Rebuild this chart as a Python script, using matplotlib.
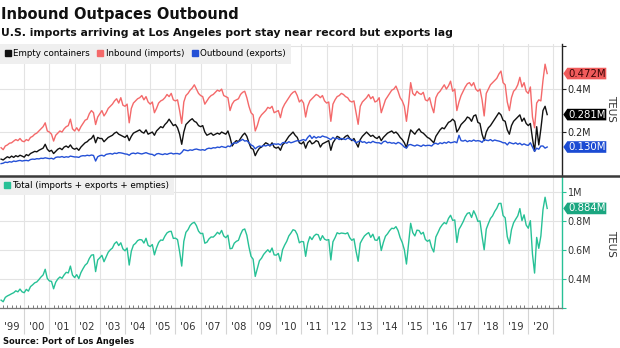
import numpy as np
import matplotlib
matplotlib.use("Agg")
import matplotlib.pyplot as plt
from matplotlib.patches import Polygon
from matplotlib.lines import Line2D
from matplotlib.ticker import FixedLocator, NullFormatter

plt.rcParams['font.family'] = ['DejaVu Sans']

# Monthly TEUs (millions), Jan 1999 - Sep 2020, one row per year
inbound = [
    0.127, 0.118, 0.135, 0.140, 0.148, 0.150, 0.158, 0.165, 0.160, 0.170, 0.158, 0.155,  # 1999
    0.165, 0.160, 0.175, 0.180, 0.190, 0.195, 0.205, 0.215, 0.225, 0.243, 0.205, 0.200,  # 2000
    0.190, 0.158, 0.185, 0.195, 0.205, 0.200, 0.215, 0.225, 0.230, 0.260, 0.215, 0.205,  # 2001
    0.220, 0.205, 0.225, 0.240, 0.255, 0.260, 0.285, 0.300, 0.290, 0.235, 0.270, 0.285,  # 2002
    0.300, 0.275, 0.290, 0.310, 0.320, 0.330, 0.345, 0.355, 0.335, 0.360, 0.325, 0.320,  # 2003
    0.330, 0.243, 0.310, 0.335, 0.345, 0.355, 0.360, 0.370, 0.350, 0.365, 0.340, 0.330,  # 2004
    0.340, 0.290, 0.310, 0.335, 0.345, 0.350, 0.360, 0.375, 0.365, 0.380, 0.350, 0.345,  # 2005
    0.350, 0.300, 0.240, 0.340, 0.370, 0.380, 0.395, 0.405, 0.420, 0.400, 0.380, 0.370,  # 2006
    0.365, 0.330, 0.345, 0.360, 0.370, 0.375, 0.385, 0.395, 0.390, 0.400, 0.370, 0.365,  # 2007
    0.360, 0.300, 0.330, 0.345, 0.350, 0.355, 0.375, 0.385, 0.390, 0.360, 0.320, 0.290,  # 2008
    0.280, 0.205, 0.230, 0.265, 0.280, 0.290, 0.300, 0.315, 0.310, 0.320, 0.290, 0.295,  # 2009
    0.300, 0.267, 0.310, 0.330, 0.345, 0.360, 0.375, 0.385, 0.390, 0.370, 0.340, 0.350,  # 2010
    0.335, 0.270, 0.320, 0.345, 0.355, 0.365, 0.375, 0.370, 0.360, 0.370, 0.345, 0.335,  # 2011
    0.340, 0.250, 0.330, 0.350, 0.365, 0.370, 0.380, 0.375, 0.365, 0.360, 0.345, 0.340,  # 2012
    0.345, 0.290, 0.236, 0.320, 0.340, 0.350, 0.360, 0.375, 0.355, 0.365, 0.340, 0.345,  # 2013
    0.360, 0.290, 0.320, 0.350, 0.365, 0.380, 0.395, 0.400, 0.414, 0.390, 0.360, 0.345,  # 2014
    0.320, 0.250, 0.330, 0.430, 0.380, 0.370, 0.390, 0.380, 0.375, 0.385, 0.350, 0.345,  # 2015
    0.360, 0.320, 0.290, 0.360, 0.380, 0.390, 0.405, 0.420, 0.400, 0.415, 0.437, 0.390,  # 2016
    0.400, 0.300, 0.340, 0.370, 0.390, 0.410, 0.425, 0.430, 0.415, 0.430, 0.400, 0.390,  # 2017
    0.400, 0.350, 0.275, 0.380, 0.400, 0.420, 0.430, 0.440, 0.450, 0.470, 0.484, 0.430,  # 2018
    0.420, 0.340, 0.300, 0.360, 0.390, 0.400, 0.420, 0.455, 0.410, 0.430, 0.390, 0.380,  # 2019
    0.410, 0.270, 0.220, 0.335, 0.350, 0.345, 0.440, 0.516, 0.4724,                      # 2020
]

empty = [
    0.074, 0.070, 0.078, 0.085, 0.080, 0.088, 0.082, 0.090, 0.085, 0.092, 0.088, 0.083,  # 1999
    0.095, 0.090, 0.100, 0.105, 0.110, 0.108, 0.115, 0.120, 0.125, 0.143, 0.120, 0.110,  # 2000
    0.115, 0.100, 0.110, 0.120, 0.125, 0.118, 0.130, 0.135, 0.128, 0.140, 0.125, 0.120,  # 2001
    0.125, 0.115, 0.130, 0.140, 0.150, 0.155, 0.165, 0.170, 0.185, 0.150, 0.175, 0.170,  # 2002
    0.170, 0.155, 0.165, 0.175, 0.180, 0.185, 0.195, 0.200, 0.190, 0.185, 0.180, 0.175,  # 2003
    0.185, 0.160, 0.180, 0.195, 0.200, 0.205, 0.210, 0.200, 0.195, 0.210, 0.190, 0.195,  # 2004
    0.200, 0.185, 0.205, 0.215, 0.225, 0.220, 0.235, 0.245, 0.260, 0.245, 0.230, 0.235,  # 2005
    0.220, 0.190, 0.143, 0.200, 0.235, 0.245, 0.255, 0.262, 0.250, 0.245, 0.230, 0.225,  # 2006
    0.230, 0.200, 0.185, 0.190, 0.195, 0.185, 0.190, 0.195, 0.190, 0.200, 0.195, 0.190,  # 2007
    0.205, 0.175, 0.135, 0.150, 0.160, 0.155, 0.170, 0.185, 0.195, 0.180, 0.150, 0.125,  # 2008
    0.120, 0.090, 0.110, 0.125, 0.130, 0.140, 0.150, 0.145, 0.135, 0.150, 0.130, 0.125,  # 2009
    0.130, 0.115, 0.140, 0.150, 0.165, 0.180, 0.190, 0.200, 0.185, 0.175, 0.150, 0.145,  # 2010
    0.155, 0.125, 0.150, 0.160, 0.145, 0.150, 0.160, 0.155, 0.130, 0.145, 0.150, 0.155,  # 2011
    0.160, 0.115, 0.150, 0.165, 0.180, 0.175, 0.165, 0.170, 0.180, 0.185, 0.170, 0.160,  # 2012
    0.170, 0.150, 0.130, 0.165, 0.180, 0.190, 0.200, 0.190, 0.180, 0.185, 0.175, 0.170,  # 2013
    0.180, 0.160, 0.175, 0.185, 0.195, 0.200, 0.205, 0.195, 0.200, 0.190, 0.175, 0.165,  # 2014
    0.150, 0.127, 0.170, 0.210, 0.200, 0.190, 0.205, 0.215, 0.200, 0.195, 0.185, 0.175,  # 2015
    0.170, 0.160, 0.150, 0.180, 0.195, 0.210, 0.220, 0.215, 0.230, 0.245, 0.250, 0.260,  # 2016
    0.250, 0.200, 0.215, 0.235, 0.245, 0.255, 0.270, 0.265, 0.250, 0.275, 0.280, 0.245,  # 2017
    0.240, 0.190, 0.160, 0.200, 0.220, 0.230, 0.245, 0.260, 0.275, 0.290, 0.280, 0.255,  # 2018
    0.250, 0.210, 0.190, 0.230, 0.250, 0.260, 0.270, 0.280, 0.250, 0.265, 0.240, 0.230,  # 2019
    0.240, 0.170, 0.110, 0.225, 0.140, 0.215, 0.300, 0.320, 0.2813,                      # 2020
]

outbound = [
    0.053, 0.055, 0.060, 0.058, 0.062, 0.060, 0.065, 0.063, 0.066, 0.068, 0.065, 0.067,  # 1999
    0.068, 0.066, 0.072, 0.074, 0.073, 0.076, 0.075, 0.078, 0.077, 0.080, 0.078, 0.076,  # 2000
    0.078, 0.074, 0.082, 0.084, 0.083, 0.086, 0.082, 0.085, 0.083, 0.088, 0.086, 0.084,  # 2001
    0.084, 0.082, 0.088, 0.090, 0.089, 0.092, 0.090, 0.093, 0.091, 0.065, 0.085, 0.090,  # 2002
    0.092, 0.088, 0.096, 0.098, 0.100, 0.097, 0.102, 0.100, 0.104, 0.103, 0.101, 0.098,  # 2003
    0.097, 0.092, 0.100, 0.102, 0.099, 0.103, 0.100, 0.098, 0.101, 0.104, 0.100, 0.097,  # 2004
    0.096, 0.090, 0.098, 0.100, 0.097, 0.095, 0.099, 0.096, 0.100, 0.102, 0.098, 0.100,  # 2005
    0.100, 0.097, 0.105, 0.118, 0.115, 0.113, 0.117, 0.115, 0.119, 0.121, 0.118, 0.116,  # 2006
    0.118, 0.115, 0.122, 0.125, 0.123, 0.127, 0.126, 0.130, 0.128, 0.133, 0.130, 0.128,  # 2007
    0.135, 0.132, 0.145, 0.150, 0.148, 0.155, 0.160, 0.166, 0.158, 0.160, 0.150, 0.140,  # 2008
    0.135, 0.122, 0.130, 0.135, 0.132, 0.138, 0.135, 0.140, 0.138, 0.142, 0.145, 0.143,  # 2009
    0.145, 0.140, 0.150, 0.152, 0.148, 0.155, 0.150, 0.153, 0.157, 0.160, 0.158, 0.162,  # 2010
    0.165, 0.160, 0.175, 0.185, 0.170, 0.180, 0.172, 0.178, 0.175, 0.182, 0.178, 0.176,  # 2011
    0.170, 0.165, 0.175, 0.168, 0.172, 0.165, 0.170, 0.168, 0.165, 0.172, 0.168, 0.165,  # 2012
    0.160, 0.150, 0.155, 0.160, 0.152, 0.155, 0.148, 0.153, 0.150, 0.157, 0.152, 0.150,  # 2013
    0.150, 0.145, 0.155, 0.158, 0.150, 0.152, 0.148, 0.150, 0.145, 0.152, 0.148, 0.140,  # 2014
    0.130, 0.125, 0.140, 0.142, 0.138, 0.135, 0.140, 0.137, 0.133, 0.140, 0.136, 0.138,  # 2015
    0.138, 0.135, 0.145, 0.148, 0.143, 0.150, 0.146, 0.152, 0.148, 0.155, 0.150, 0.152,  # 2016
    0.155, 0.150, 0.185, 0.160, 0.158, 0.162, 0.155, 0.160, 0.157, 0.163, 0.158, 0.160,  # 2017
    0.158, 0.152, 0.165, 0.162, 0.160, 0.165, 0.158, 0.163, 0.160, 0.158, 0.155, 0.150,  # 2018
    0.150, 0.140, 0.152, 0.148, 0.145, 0.150, 0.143, 0.148, 0.140, 0.145, 0.140, 0.138,  # 2019
    0.150, 0.130, 0.110, 0.125, 0.120, 0.135, 0.135, 0.125, 0.1303,                      # 2020
]

first_year = 1999
year_labels = ["'99", "'00", "'01", "'02", "'03", "'04", "'05", "'06", "'07", "'08", "'09",
               "'10", "'11", "'12", "'13", "'14", "'15", "'16", "'17", "'18", "'19", "'20"]
top_ticks = [0.2, 0.4, 0.6]
top_tick_labels = ["0.2M", "0.4M", ""]
bottom_ticks = [0.2, 0.4, 0.6, 0.8, 1.0]
bottom_tick_labels = ["", "0.4M", "0.6M", "0.8M", "1M"]

inbound = np.array(inbound)
empty = np.array(empty)
outbound = np.array(outbound)
total = inbound + outbound + empty
# month-end positions in decimal years
t = first_year + (np.arange(len(inbound)) + 1) / 12.0

C_RED = '#f4696a'
C_BLACK = '#111111'
C_BLUE = '#2450d6'
C_GREEN = '#27c196'
GRID = '#e3e3e3'

W, H = 620, 348
fig = plt.figure(figsize=(W / 100, H / 100), dpi=100)
fig.patch.set_facecolor('white')

x_right = 562.3
xlim = (1999.04, 2021.35)


def px_rect(left, top, right, bottom):
    return [left / W, 1 - bottom / H, (right - left) / W, (bottom - top) / H]


ax1 = fig.add_axes(px_rect(0, 44, x_right, 175))
ax2 = fig.add_axes(px_rect(0, 177, x_right, 308))

years = np.arange(2000, 2022)

for ax in (ax1, ax2):
    ax.set_xlim(*xlim)
    ax.set_facecolor('white')
    ax.spines['top'].set_visible(False)
    ax.spines['left'].set_visible(False)
    ax.yaxis.tick_right()
    ax.xaxis.set_major_locator(FixedLocator(years))
    ax.xaxis.set_major_formatter(NullFormatter())
    ax.grid(True, color=GRID, lw=0.8, zorder=0)
    ax.set_axisbelow(True)
    ax.tick_params(axis='y', direction='out', length=3, width=0.8, pad=1,
                   labelsize=6.9, colors='#333333')

# top panel
ax1.set_ylim(0, 0.61)
ax1.set_yticks(top_ticks)
ax1.set_yticklabels(top_tick_labels)
ax1.spines['right'].set_color('#222222')
ax1.spines['right'].set_linewidth(1.0)
ax1.spines['bottom'].set_visible(False)
ax1.tick_params(axis='x', length=0)
ax1.tick_params(axis='y', colors='#222222')

ax1.plot(t, empty, color=C_BLACK, lw=1.0, zorder=3)
ax1.plot(t, inbound, color=C_RED, lw=1.0, zorder=2)
ax1.plot(t, outbound, color=C_BLUE, lw=1.0, zorder=3)

# bottom panel
ax2.set_ylim(0.2, 1.1)
ax2.set_yticks(bottom_ticks)
ax2.set_yticklabels(bottom_tick_labels)
ax2.spines['right'].set_color(C_GREEN)
ax2.spines['right'].set_linewidth(1.0)
ax2.spines['bottom'].set_color('#777777')
ax2.spines['bottom'].set_linewidth(0.9)
ax2.tick_params(axis='y', color=C_GREEN, labelcolor='#333333')
ax2.tick_params(axis='x', which='major', direction='out', length=19, width=0.8,
                color='#d4d4d4')
ax2.xaxis.set_minor_locator(FixedLocator(np.arange(1999, 2021.4, 1 / 6.0)))
ax2.tick_params(axis='x', which='minor', direction='in', length=2, width=0.6,
                color='#666666')

ax2.plot(t, total, color=C_GREEN, lw=1.0, zorder=3)

# year labels centred in each (visible part of the) year
trans = ax2.get_xaxis_transform()
for i, lab in enumerate(year_labels):
    y0 = first_year + i
    lo, hi = max(y0, xlim[0]), min(y0 + 1, xlim[1])
    ax2.text((lo + hi) / 2, -19.5 / 131, lab, transform=trans, ha='center', va='center',
             fontsize=7.2, color='#333333')

# separator between panels
fig.add_artist(Line2D([0, 1], [1 - 175.5 / H, 1 - 175.5 / H], color='#3a3a3a', lw=1.8))

# legends
def square(c):
    return Line2D([], [], marker='s', color=c, linestyle='none', markersize=4.5)

leg1 = ax1.legend([square(C_BLACK), square(C_RED), square(C_BLUE)],
                  ['Empty containers', 'Inbound (imports)', 'Outbound (exports)'],
                  loc='upper left', bbox_to_anchor=(0, 1), borderaxespad=0, ncol=3,
                  fontsize=6.3, handlelength=0.6, handletextpad=0.3, columnspacing=0.9,
                  borderpad=0.6, frameon=True, fancybox=False)
leg1.get_frame().set_facecolor('#efefef')
leg1.get_frame().set_edgecolor('none')
leg1.get_frame().set_alpha(1)

leg2 = ax2.legend([square(C_GREEN)], ['Total (imports + exports + empties)'],
                  loc='upper left', bbox_to_anchor=(0, 1), borderaxespad=0,
                  fontsize=6.3, handlelength=0.6, handletextpad=0.3,
                  borderpad=0.5, frameon=True, fancybox=False)
leg2.get_frame().set_facecolor('#efefef')
leg2.get_frame().set_edgecolor('none')
leg2.get_frame().set_alpha(1)

# last-value tags on the right axis
inv = fig.transFigure.inverted()


def tag(ax, value, fill, text_color):
    yd = ax.transData.transform((xlim[1], value))[1]
    x0 = ax.transAxes.transform((1, 0))[0] + 1
    x1 = x0 + 43
    h = 5.8
    pts = [(x0, yd), (x0 + 4, yd + h), (x1, yd + h), (x1, yd - h), (x0 + 4, yd - h)]
    pts = inv.transform(pts)
    fig.add_artist(Polygon(pts, closed=True, facecolor=fill, edgecolor='none', zorder=5))
    cx, cy = inv.transform(((x0 + 4 + x1) / 2 + 0.5, yd))
    fig.text(cx, cy, f'{value:.3f}M', ha='center', va='center', fontsize=7.3,
             color=text_color, zorder=6)


tag(ax1, inbound[-1], '#f05b5b', '#3a0505')
tag(ax1, empty[-1], '#000000', 'white')
tag(ax1, outbound[-1], '#1b4bd3', 'white')
tag(ax2, total[-1], '#1aa680', 'white')

# axis units
fig.text(611 / W, 1 - 108 / H, 'TEUS', rotation=270, ha='center', va='center',
         fontsize=7.5, color='#333333')
fig.text(611 / W, 1 - 243 / H, 'TEUS', rotation=270, ha='center', va='center',
         fontsize=7.5, color='#333333')

# titles and source
fig.text(1 / W, 1 - 18.5 / H, 'Inbound Outpaces Outbound', fontsize=10.5,
         fontweight='bold', color='#111111', va='baseline', ha='left')
fig.text(1 / W, 1 - 35.8 / H,
         'U.S. imports arriving at Los Angeles port stay near record but exports lag',
         fontsize=7.8, fontweight='bold', color='#111111', va='baseline', ha='left')
fig.text(3 / W, 1 - 344 / H, 'Source: Port of Los Angeles', fontsize=6,
         fontweight='bold', color='#111111', va='baseline', ha='left')

fig.savefig('out.png', dpi=100, facecolor='white')
